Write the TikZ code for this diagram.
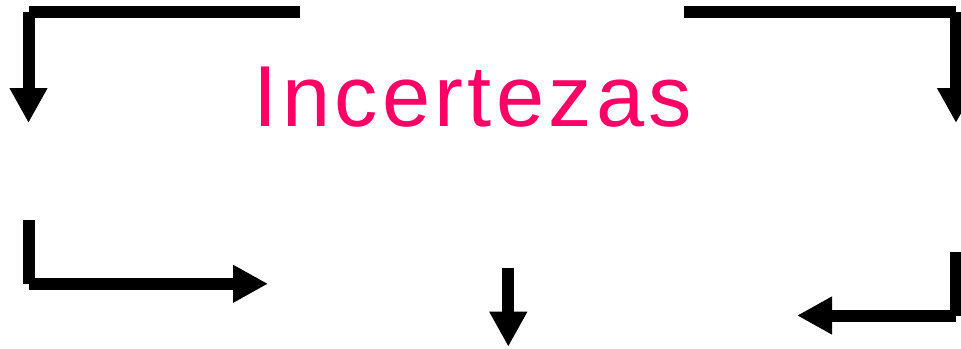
\documentclass[tikz,border=0pt]{standalone}
\usepackage{fontspec}
\setmainfont{Liberation Sans}
\usetikzlibrary{arrows.meta}
\definecolor{titlepink}{HTML}{FF0066}
\tikzset{
  bar/.style={line width=12pt},
  bigarrow/.style={line width=12pt, -{Triangle[length=35pt,width=35.5pt]}},
  titletext/.style={inner sep=0pt, text=titlepink, font=\fontsize{86.6}{100}\selectfont\addfontfeature{LetterSpace=5}}
}
\begin{document}
\begin{tikzpicture}[x=1pt,y=-1pt]
\useasboundingbox (0,0) rectangle (961,348);
\node[titletext, anchor=base] (title) at (473,126) {Incertezas};
% top-left
\coordinate (tlS) at (300,11.7);
\coordinate (tlC) at (28.5,11.7);
\coordinate (tlE) at (28.5,123);
\draw[bar] (tlS) -- (tlC);
\draw[bigarrow] (tlC) -- (tlE);
% top-right
\coordinate (trS) at (684,11.7);
\coordinate (trC) at (956,11.7);
\coordinate (trE) at (956,123);
\draw[bar] (trS) -- (trC);
\draw[bigarrow] (trC) -- (trE);
% bottom-left
\coordinate (blS) at (28.5,220);
\coordinate (blC) at (28.5,283.8);
\coordinate (blE) at (268,283.8);
\draw[bar] (blS) -- (blC);
\draw[bigarrow] (blC) -- (blE);
% bottom-right
\coordinate (brS) at (956,251.7);
\coordinate (brC) at (956,315.5);
\coordinate (brE) at (797,315.5);
\draw[bar] (brS) -- (brC);
\draw[bigarrow] (brC) -- (brE);
% middle
\coordinate (mS) at (508.3,267.7);
\coordinate (mE) at (508.3,346.7);
\draw[bigarrow] (mS) -- (mE);
\end{tikzpicture}
\end{document}
